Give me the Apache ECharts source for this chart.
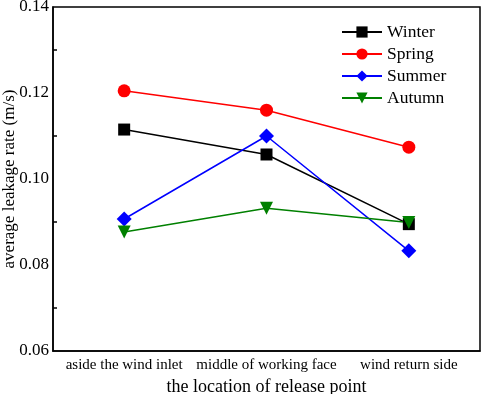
<!DOCTYPE html>
<html>
<head>
<meta charset="utf-8">
<script src="https://cdn.jsdelivr.net/npm/echarts@6/dist/echarts.min.js"></script>
<style>
  html, body { margin: 0; padding: 0; background: #fff; }
  #chart { width: 484px; height: 394px; }
</style>
</head>
<body>
<div id="chart"></div>
<script>
// release point locations
var locations = ['aside the wind inlet', 'middle of working face', 'wind return side'];
// average leakage rate per season (m/s)
var winter = [0.1115, 0.1057, 0.0895];
var spring = [0.1205, 0.1160, 0.1074];
var summer = [0.0907, 0.1100, 0.0833];
var autumn = [0.0877, 0.0932, 0.0899];

var font = 'Liberation Serif, Times New Roman, serif';

function makeSeries(name, data, color, symbol, size, rotate) {
    return {
        name: name,
        type: 'line',
        data: data,
        symbol: symbol,
        symbolSize: size,
        symbolRotate: rotate || 0,
        itemStyle: { color: color },
        lineStyle: { color: color, width: 1.5 }
    };
}

var myChart = echarts.init(document.getElementById('chart'));
myChart.setOption({
    animation: false,
    textStyle: { fontFamily: font },
    grid: {
        left: 53, right: 4, top: 7, bottom: 43,
        outerBoundsMode: 'none',
        containLabel: false,
        show: true, borderColor: '#000', borderWidth: 1.5
    },
    legend: {
        orient: 'vertical',
        left: 336, top: 18,
        itemWidth: 40, itemHeight: 14, itemGap: 4,
        textStyle: { fontFamily: font, fontSize: 17.5, color: '#000' },
        data: ['Winter', 'Spring', 'Summer', 'Autumn']
    },
    xAxis: {
        type: 'category',
        data: locations,
        boundaryGap: true,
        name: 'the location of release point',
        nameLocation: 'middle',
        nameGap: 27,
        nameMoveOverlap: false,
        nameTextStyle: { fontFamily: font, fontSize: 18, color: '#000' },
        axisLine: { lineStyle: { color: '#000', width: 1.5 } },
        axisTick: { alignWithLabel: true, inside: true, length: 6, lineStyle: { color: '#000', width: 1.5 } },
        axisLabel: { interval: 0, fontFamily: font, fontSize: 15, color: '#000', margin: 7 },
        splitLine: { show: false }
    },
    yAxis: {
        type: 'value',
        min: 0.06, max: 0.14, interval: 0.02,
        name: 'average leakage rate (m/s)',
        nameLocation: 'middle',
        nameGap: 35,
        nameMoveOverlap: false,
        nameTextStyle: { fontFamily: font, fontSize: 17, color: '#000' },
        axisLine: { show: true, lineStyle: { color: '#000', width: 1.5 } },
        axisTick: { inside: true, length: 6, lineStyle: { color: '#000', width: 1.5 } },
        minorTick: { show: true, splitNumber: 2, length: 4, lineStyle: { color: '#000', width: 1.5 } },
        axisLabel: {
            fontFamily: font, fontSize: 17, color: '#000', margin: 4,
            formatter: function (v) { return v.toFixed(2); }
        },
        splitLine: { show: false }
    },
    series: [
        makeSeries('Winter', winter, '#000000', 'rect', 12),
        makeSeries('Spring', spring, '#ff0000', 'circle', 13),
        makeSeries('Summer', summer, '#0000ff', 'diamond', 15),
        makeSeries('Autumn', autumn, '#008000', 'triangle', 13, 180)
    ]
});
</script>
</body>
</html>
